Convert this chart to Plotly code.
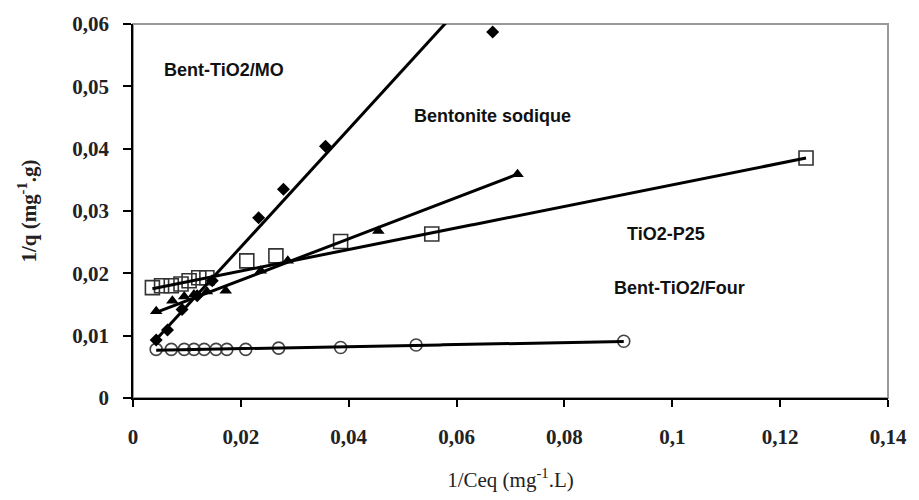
import plotly.graph_objects as go
import numpy as np

# ---- data ----
mo_x = [0.0043, 0.0064, 0.0091, 0.0119, 0.0147, 0.0233, 0.0279, 0.0357, 0.0667]
mo_y = [0.0093, 0.0109, 0.0142, 0.0164, 0.0188, 0.0289, 0.0335, 0.0404, 0.0587]

sod_x = [0.0043, 0.0073, 0.0095, 0.0113, 0.0137, 0.0172, 0.0237, 0.0287, 0.0455, 0.0713]
sod_y = [0.0139, 0.0156, 0.0163, 0.0166, 0.0171, 0.0172, 0.0204, 0.0220, 0.0268, 0.0359]

p25_x = [0.0036, 0.0053, 0.0071, 0.0089, 0.0104, 0.0122, 0.0137, 0.0211, 0.0265, 0.0385, 0.0554, 0.1248]
p25_y = [0.0177, 0.0180, 0.0180, 0.0183, 0.0188, 0.0193, 0.0193, 0.0220, 0.0228, 0.0251, 0.0263, 0.0385]

four_x = [0.0043, 0.0071, 0.0095, 0.0113, 0.0132, 0.0154, 0.0174, 0.0209, 0.0270, 0.0385, 0.0525, 0.0910]
four_y = [0.0078, 0.0078, 0.0078, 0.0078, 0.0078, 0.0078, 0.0078, 0.0078, 0.0080, 0.0081, 0.0085, 0.0091]

# linear trendlines (slope, intercept)
trend_slope = {"mo": 0.946, "sod": 0.331, "p25": 0.173, "four": 0.0161}
trend_icpt = {"mo": 0.0053, "sod": 0.0123, "p25": 0.0169, "four": 0.0076}

labels = ["Bent-TiO2/MO", "Bentonite sodique", "TiO2-P25", "Bent-TiO2/Four"]
x_ticks = [0, 0.02, 0.04, 0.06, 0.08, 0.1, 0.12, 0.14]
x_ticktext = ["0", "0,02", "0,04", "0,06", "0,08", "0,1", "0,12", "0,14"]
y_ticks = [0, 0.01, 0.02, 0.03, 0.04, 0.05, 0.06]
y_ticktext = ["0", "0,01", "0,02", "0,03", "0,04", "0,05", "0,06"]

fig = go.Figure()

series = [
    ("four", four_x, four_y, dict(symbol="circle-open", size=12, color="#444", line=dict(width=1.6, color="#444"))),
    ("p25", p25_x, p25_y, dict(symbol="square-open", size=14, color="#333", line=dict(width=1.6, color="#333"))),
    ("sod", sod_x, sod_y, dict(symbol="triangle-up", size=11, color="black")),
    ("mo", mo_x, mo_y, dict(symbol="diamond", size=10, color="black")),
]

for key, xs, ys, mk in series:
    fig.add_trace(go.Scatter(x=xs, y=ys, mode="markers", marker=mk,
                             showlegend=False, cliponaxis=True))

for key, xs, ys, mk in series:
    xx = np.linspace(min(xs), max(xs), 200)
    yy = trend_slope[key] * xx + trend_icpt[key]
    fig.add_trace(go.Scatter(x=xx, y=yy, mode="lines",
                             line=dict(color="black", width=3),
                             showlegend=False, hoverinfo="skip"))

serif = "Liberation Serif"
sans = "Liberation Sans"

ann_pos = [(0.0168, 0.0527), (0.0667, 0.0453), (0.0988, 0.0263), (0.1014, 0.0176)]
annotations = []
for txt, (ax_, ay_) in zip(labels, ann_pos):
    annotations.append(dict(x=ax_, y=ay_, xref="x", yref="y", text="<b>%s</b>" % txt,
                            showarrow=False, font=dict(family=sans, size=18, color="#111"),
                            xanchor="center", yanchor="middle"))

tick_font = dict(family=serif, size=21, color="#222", weight="bold")

fig.update_layout(
    width=919, height=500,
    margin=dict(l=133, r=28, t=24, b=100),
    paper_bgcolor="white", plot_bgcolor="white",
    annotations=annotations,
    shapes=[dict(type="rect", xref="paper", yref="paper", x0=0, x1=1, y0=0, y1=1,
                 line=dict(color="#999", width=2), layer="below")],
    xaxis=dict(range=[0, 0.14], tickvals=x_ticks, ticktext=x_ticktext,
               showgrid=False, zeroline=False, showline=True, linecolor="black", linewidth=1.5,
               ticks="outside", ticklen=7, tickcolor="black", tickwidth=1.5,
               ticklabelstandoff=12,
               tickfont=tick_font,
               title=dict(text="1/Ceq (mg<sup>-1</sup>.L)", standoff=24,
                          font=dict(family=serif, size=21, color="#222"))),
    yaxis=dict(range=[0, 0.06], tickvals=y_ticks, ticktext=y_ticktext,
               showgrid=False, zeroline=False, showline=True, linecolor="black", linewidth=1.5,
               ticks="outside", ticklen=8, tickcolor="black", tickwidth=1.5,
               ticklabelstandoff=10,
               tickfont=tick_font,
               title=dict(text="<b>1/q (mg<sup>-1</sup>.g)</b>", standoff=30,
                          font=dict(family=serif, size=21, color="#222"))),
)

fig.write_html("out.html")
